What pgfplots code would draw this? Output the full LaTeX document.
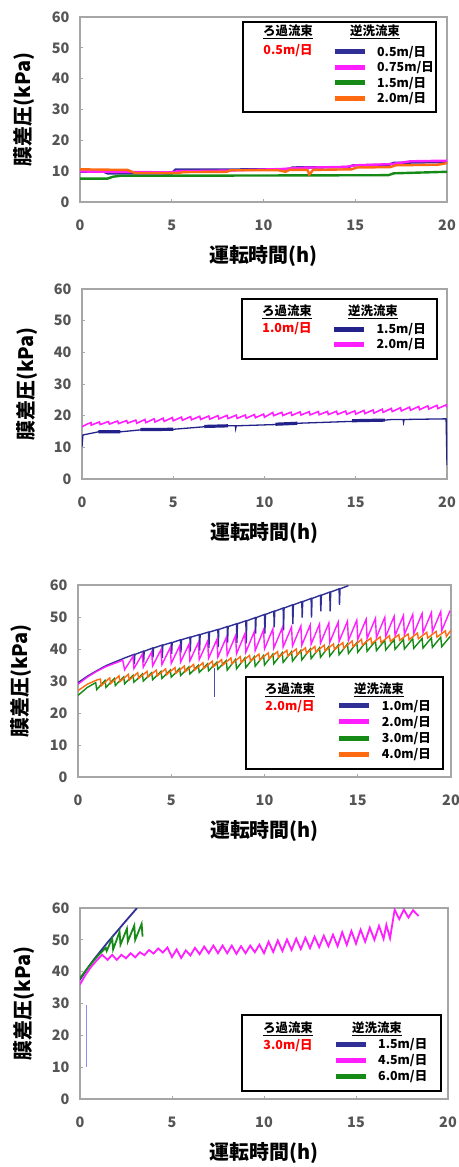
\documentclass[border=0pt]{standalone}
\usepackage{fontspec}
\setmainfont{Noto Sans CJK JP}
\usepackage{pgfplots}
\pgfplotsset{compat=1.18}

\definecolor{cBlue}{HTML}{2F2F96}
\definecolor{cNavy}{HTML}{22228A}
\definecolor{cMag}{HTML}{FF1EFF}
\definecolor{cGreen}{HTML}{168A16}
\definecolor{cOrange}{HTML}{FF6A10}
\definecolor{framegray}{HTML}{A6A6A6}
\definecolor{tickgray}{HTML}{555555}

\newcommand\ticklabelfont{\bfseries\fontsize{14.5}{14.5}\selectfont}
\newcommand\axislabelfont{\bfseries\fontsize{20}{20}\selectfont}
\newcommand\legfont{\bfseries\fontsize{12.5}{12.5}\selectfont}

\pgfplotsset{
  panel/.style={
    scale only axis,
    anchor=south west,
    xmin=0, xmax=20, ymin=0, ymax=60,
    xtick={0,5,10,15,20},
    ytick={0,10,20,30,40,50,60},
    tick align=inside,
    xtick pos=left, ytick pos=left,
    major tick length=3bp,
    axis line style={draw=framegray, line width=1.6bp},
    tick style={draw=framegray, line width=1bp},
    tick label style={font=\ticklabelfont, text=tickgray},
    /pgf/number format/assume math mode=true,
    xticklabel style={yshift=-14bp},
    yticklabel style={xshift=-7bp},
    xlabel={運転時間(h)},
    ylabel={膜差圧(kPa)},
    every axis x label/.style={at={(axis description cs:0.5,0)}, anchor=center, yshift=-54bp, font=\axislabelfont},
    every axis y label/.style={at={(axis description cs:-0.152,0.5)}, anchor=center, rotate=90, font=\axislabelfont},
    legend cell align=left,
    legend image code/.code={\draw[##1, line width=5bp, line cap=butt] (0bp,0bp) -- (30bp,0bp);},
    legend style={anchor=north west, draw=none, fill=none, inner sep=0pt, outer sep=0pt,
      column sep=10bp, row sep=0pt, font=\legfont,
      nodes={inner sep=0pt, minimum height=15.5bp, anchor=west}},
  },
}

% frame and column headers of each legend
% #1..#4 box corners, #5 left column centre, #6 right column centre,
% #7 header row, #8 filtration flux row, #9 filtration flux text
\newcommand\legendbox[9]{%
  \draw[black, line width=1.4bp] (#1bp,-#2bp) rectangle (#3bp,-#4bp);
  \node[font=\legfont] at (#5bp,-#7bp) {\underline{ろ過流束}};
  \node[font=\legfont] at (#6bp,-#7bp) {\underline{逆洗流束}};
  \node[font=\legfont, text=red] at (#5bp,-#8bp) {#9};
}

\begin{document}
\begin{tikzpicture}
\path[use as bounding box] (0bp,0bp) rectangle (459bp,-1167bp);

% ---------- filtration flux 0.5 m/day ----------
\begin{axis}[panel, width=367bp, height=185bp, at={(80bp,-202bp)},
  legend style={at={(rel axis cs:0.687,0.853)}}]
\addplot[cBlue, line width=2.4bp] coordinates {
 (0,9.8)(1.3,9.8)(1.5,9.3)(5,9.3)(5.2,10.5)(11.3,10.6)(11.6,11.2)(14.6,11.3)
 (14.9,11.9)(16.8,12.0)(17.1,12.7)(20,13.0)};
\addlegendentry{0.5m/日}
\addplot[cMag, line width=2.4bp] coordinates {
 (0,9.9)(5,9.6)(5.3,10.0)(7,10.1)(8,10.2)(11,10.7)(12,11.1)(14.5,11.4)
 (15,11.9)(17,12.3)(18,13.2)(20,13.4)};
\addlegendentry{0.75m/日}
\addplot[cGreen, line width=2.4bp] coordinates {
 (0,7.6)(1.5,7.6)(1.8,8.2)(2.2,8.5)(10,8.6)(16.8,8.7)(17.1,9.3)(20,9.8)};
\addlegendentry{1.5m/日}
\addplot[cOrange, line width=2.4bp] coordinates {
 (0,10.6)(2.6,10.4)(3,9.4)(5.4,9.4)(5.6,9.7)(8,9.8)(8.2,10.3)(10.8,10.3)
 (11.2,9.8)(11.4,10.4)(12.4,10.4)(12.5,8.9)(12.7,10.4)(14.8,10.6)(15.1,11.2)
 (16.9,11.3)(17.2,11.9)(19.5,12.1)(20,12.6)};
\addlegendentry{2.0m/日}
\end{axis}
\legendbox{243}{22}{436}{112}{288}{375}{32}{51}{0.5m/日}

% ---------- filtration flux 1.0 m/day ----------
\begin{axis}[panel, width=365bp, height=190bp, at={(82bp,-479bp)},
  legend style={at={(rel axis cs:0.684,0.830)}}]
\addplot[cNavy, line width=1.3bp] coordinates {
 (0,10.2)(0.05,13.9)(0.3,14.2)(0.9,14.9)(2.1,14.9)(3.2,15.5)(5,15.7)
 (6.7,16.5)(8,16.8)(8.4,16.8)(8.42,15.9)(8.45,16.8)(10.6,17.2)(11.8,17.6)
 (14.8,18.2)(16.6,18.6)(17,18.8)(17.6,18.8)(17.62,17.9)(17.65,18.8)
 (19.95,19.0)(20,4.4)};
\addlegendentry{1.5m/日}
\addplot[cNavy, line width=3.2bp, forget plot, unbounded coords=jump] coordinates {
 (0.9,14.9)(2.1,14.9) (2.1,nan)
 (3.2,15.6)(5,15.7) (5,nan)
 (6.7,16.6)(8,16.8) (8,nan)
 (10.6,17.3)(11.8,17.6) (11.8,nan)
 (14.8,18.4)(16.6,18.6)};
\addplot[cMag, line width=1.6bp] coordinates {
 (0,16.5)(0.3,17.4)(0.5,17.8)
 (0.5,17.0)(0.95,18.0)(1,17.2)(1.45,18.15)(1.5,17.35)(1.95,18.3)
 (2,17.5)(2.45,18.45)(2.5,17.65)(2.95,18.6)(3,17.6)(3.45,18.8)
 (3.5,17.8)(3.95,19.0)(4,18.0)(4.45,19.2)(4.5,18.2)(4.95,19.4)
 (5,18.4)(5.45,19.55)(5.5,18.55)(5.95,19.7)(6,18.7)(6.45,19.8)
 (6.5,18.8)(6.95,19.9)(7,18.9)(7.45,20.0)(7.5,19.0)(7.95,20.1)
 (8,19.1)(8.45,20.15)(8.5,19.15)(8.95,20.2)(9,19.2)(9.45,20.35)
 (9.5,19.35)(9.95,20.5)(10,19.5)(10.45,21.0)(10.5,20.0)(10.95,21.05)
 (11,20.05)(11.45,21.1)(11.5,20.1)(11.95,21.2)(12,20.2)(12.45,21.25)
 (12.5,20.25)(12.95,21.3)(13,20.3)(13.45,21.35)(13.5,20.35)(13.95,21.4)
 (14,20.4)(14.45,21.45)(14.5,20.45)(14.95,21.5)(15,20.5)(15.45,21.65)
 (15.5,20.65)(15.95,21.8)(16,20.8)(16.45,22.05)(16.5,21.05)(16.95,22.3)
 (17,21.3)(17.45,22.5)(17.5,21.5)(17.95,22.7)(18,21.7)(18.45,22.9)
 (18.5,21.9)(18.95,23.1)(19,22.1)(19.45,23.25)(19.5,22.25)(19.95,23.4)
 (20,22.6)};
\addlegendentry{2.0m/日}
\end{axis}
\legendbox{242}{299}{437}{359}{287}{373}{312}{329}{1.0m/日}

% ---------- filtration flux 2.0 m/day ----------
\begin{axis}[panel, width=373bp, height=192bp, at={(78bp,-777bp)},
  legend style={at={(rel axis cs:0.694,0.4135)}, nodes={minimum height=16.2bp}}]
\addplot[cBlue, line width=1.4bp] coordinates {
 (0,29.5)(0.5,31.5)(1,33.2)(1.5,34.8)(2,36.0)(2.5,37.2)
 (3,38.3)(3.02,35.3)(3.05,38.3)(3.5,39.3)(3.52,35.8)(3.55,39.3)
 (4,40.3)(4.02,37.3)(4.05,40.3)(4.5,41.2)(4.52,37.2)(4.55,41.2)
 (5,42.0)(5.02,38.5)(5.05,42.0)(5.5,42.9)(5.52,38.9)(5.55,42.9)
 (6,43.7)(6.02,39.2)(6.05,43.7)(6.5,44.5)(6.52,39.5)(6.55,44.5)
 (7,45.3)(7.02,40.3)(7.05,45.3)(7.5,46.1)(7.52,40.6)(7.55,46.1)
 (8,47.0)(8.02,42.0)(8.05,47.0)(8.5,47.9)(8.52,41.9)(8.55,47.9)
 (9,48.8)(9.02,41.8)(9.05,48.8)(9.5,49.8)(9.52,44.8)(9.55,49.8)
 (10,50.8)(10.02,44.8)(10.05,50.8)(10.5,51.8)(10.52,46.8)(10.55,51.8)
 (11,52.8)(11.02,45.8)(11.05,52.8)(11.5,53.8)(11.52,47.8)(11.55,53.8)
 (12,54.8)(12.02,49.8)(12.05,54.8)(12.5,55.8)(12.52,49.8)(12.55,55.8)
 (13,56.8)(13.02,51.8)(13.05,56.8)(13.5,57.8)(13.52,51.8)(13.55,57.8)
 (14,58.8)(14.02,53.8)(14.05,58.8)(14.5,59.8)};
\addlegendentry{1.0m/日}
\addplot[cMag, line width=1.4bp] coordinates {
 (0,29.0)(0.5,31.2)(1,33.0)(1.5,34.5)(2,35.6)(2.4,36.5)
 (2.5,33.5)(2.95,37.7)(3.0,33.9)(3.45,38.4)(3.5,34.3)(3.95,39.1)
 (4.0,34.7)(4.45,39.8)(4.5,35.1)(4.95,40.5)(5.0,35.5)(5.45,41.0)
 (5.5,35.9)(5.95,41.5)(6.0,36.3)(6.45,42.0)(6.5,36.7)(6.95,42.5)
 (7.0,37.1)(7.45,43.0)(7.5,37.5)(7.95,43.6)(8.0,38.0)(8.45,44.2)
 (8.5,38.5)(8.95,44.8)(9.0,39.0)(9.45,45.4)(9.5,39.5)(9.95,46.0)
 (10.0,40.0)(10.45,46.3)(10.5,40.3)(10.95,46.6)(11.0,40.6)(11.45,46.9)
 (11.5,40.9)(11.95,47.2)(12.0,41.2)(12.45,47.5)(12.5,41.5)(12.95,47.8)
 (13.0,41.8)(13.45,48.1)(13.5,42.1)(13.95,48.4)(14.0,42.4)(14.45,48.7)
 (14.5,42.7)(14.95,49.0)(15.0,43.0)(15.45,49.3)(15.5,43.3)(15.95,49.6)
 (16.0,43.6)(16.45,49.9)(16.5,43.9)(16.95,50.2)(17.0,44.2)(17.45,50.5)
 (17.5,44.5)(17.95,50.8)(18.0,44.8)(18.45,51.1)(18.5,45.1)(18.95,51.4)
 (19.0,45.4)(19.45,51.7)(19.5,45.7)(19.95,52.0)};
\addlegendentry{2.0m/日}
\addplot[cGreen, line width=1.4bp] coordinates {
 (0,25.5)(0.5,28.0)(0.95,29.5)
 (1,27.3)(1.45,30.2)(1.5,28.0)(1.95,30.8)(2,28.6)(2.45,31.3)
 (2.5,29.1)(2.95,31.8)(3,29.6)(3.45,32.2)(3.5,30.0)(3.95,32.6)
 (4,30.4)(4.45,33.0)(4.5,30.8)(4.95,33.4)(5,31.2)(5.45,33.9)
 (5.5,31.7)(5.95,34.4)(6,32.2)(6.45,34.9)(6.5,32.7)(6.95,35.4)
 (7,33.2)(7.45,35.9)(7.5,33.7)(7.95,36.4)(8,33.4)(8.45,36.8)
 (8.5,33.8)(8.95,37.2)(9,34.2)(9.45,37.6)(9.5,34.6)(9.95,38.0)
 (10,35.0)(10.45,38.4)(10.5,35.4)(10.95,38.8)(11,35.8)(11.45,39.2)
 (11.5,36.2)(11.95,39.6)(12,36.6)(12.45,40.0)(12.5,37.0)(12.95,40.4)
 (13,37.4)(13.45,40.8)(13.5,37.8)(13.95,41.2)(14,38.2)(14.45,41.6)
 (14.5,38.6)(14.95,42.0)(15,39.0)(15.45,42.3)(15.5,39.3)(15.95,42.5)
 (16,39.5)(16.45,42.7)(16.5,39.7)(16.95,42.9)(17,39.9)(17.45,43.0)
 (17.5,40.0)(17.95,43.2)(18,40.2)(18.45,43.3)(18.5,40.3)(18.95,43.5)
 (19,40.5)(19.45,43.7)(19.5,40.7)(19.95,43.9)};
\addlegendentry{3.0m/日}
\addplot[cOrange, line width=1.4bp] coordinates {
 (0,27.0)(0.5,29.0)(1,30.3)(1.2,30.6)
 (1.25,28.5)(1.7,31.0)(1.75,29.2)(2.2,31.6)(2.25,29.8)(2.7,32.1)
 (2.75,30.3)(3.2,32.6)(3.25,30.8)(3.7,33.0)(3.75,31.2)(4.2,33.4)
 (4.25,31.6)(4.7,33.8)(4.75,32.0)(5.2,34.2)(5.25,32.4)(5.7,34.7)
 (5.75,32.9)(6.2,35.2)(6.25,33.4)(6.7,35.7)(6.75,33.9)(7.2,36.2)
 (7.25,34.4)(7.7,36.7)(7.75,34.9)(8.2,37.2)(8.25,35.4)(8.7,37.6)
 (8.75,35.8)(9.2,38.0)(9.25,36.2)(9.7,38.4)(9.75,36.6)(10.2,38.8)
 (10.25,37.0)(10.7,39.2)(10.75,37.4)(11.2,39.6)(11.25,37.8)(11.7,40.0)
 (11.75,38.2)(12.2,40.4)(12.25,38.6)(12.7,40.8)(12.75,39.0)(13.2,41.2)
 (13.25,39.4)(13.7,41.6)(13.75,39.8)(14.2,42.0)(14.25,40.2)(14.7,42.5)
 (14.75,40.7)(15.2,43.0)(15.25,41.2)(15.7,43.45)(15.75,41.65)(16.2,43.8)
 (16.25,42.0)(16.7,44.15)(16.75,42.35)(17.2,44.5)(17.25,42.7)(17.7,44.7)
 (17.75,42.9)(18.2,45.0)(18.25,43.2)(18.7,45.2)(18.75,43.4)(19.2,45.5)
 (19.25,43.7)(19.7,45.7)(19.75,43.9)(20,45.9)};
\addlegendentry{4.0m/日}
\addplot[gray!60!blue, line width=0.7bp, forget plot] coordinates {(7.3,34.0)(7.3,25.0)};
\end{axis}
\legendbox{246}{677}{443}{769}{290}{379}{690}{707}{2.0m/日}

% ---------- filtration flux 3.0 m/day ----------
\begin{axis}[panel, width=368bp, height=191bp, at={(80bp,-1099bp)},
  legend style={at={(rel axis cs:0.688,0.3306)}, nodes={minimum height=16.3bp}}]
\addplot[cBlue, line width=1.8bp] coordinates {
 (0,37.5)(0.25,39.7)(0.5,41.8)(0.75,43.8)(1,45.6)(1.5,49.2)(2,52.6)
 (2.5,56.0)(3.1,60.0)};
\addlegendentry{1.5m/日}
\addplot[cMag, line width=1.8bp] coordinates {
 (0,36.0)(0.3,39.0)(0.6,41.5)(0.9,43.5)(1.2,45.3)
 (1.5,43.7)(1.75,45.3)(2.0,43.7)(2.25,45.3)(2.5,44.2)(2.75,45.8)
 (3.0,44.5)(3.25,46.1)(3.5,45.2)(3.75,46.8)(4.0,45.7)(4.25,47.3)
 (4.5,46.0)(4.75,47.6)(5.0,44.6)(5.25,47.0)(5.5,44.3)(5.75,46.7)
 (6.0,45.1)(6.25,47.5)(6.5,45.5)(6.75,47.9)(7.0,45.8)(7.25,48.2)
 (7.5,45.8)(7.75,48.2)(8.0,45.8)(8.25,48.2)(8.5,45.6)(8.75,48.0)
 (9.0,45.8)(9.25,48.2)(9.5,46.1)(9.75,48.5)(10.0,45.8)(10.25,49.4)
 (10.5,46.2)(10.75,49.8)(11.0,46.5)(11.25,50.1)(11.5,46.8)(11.75,50.4)
 (12.0,47.1)(12.25,50.7)(12.5,47.4)(12.75,51.0)(13.0,47.7)(13.25,51.3)
 (13.5,48.0)(13.75,51.6)(14.0,48.0)(14.25,52.4)(14.5,48.4)(14.75,52.8)
 (15.0,48.8)(15.25,53.2)(15.5,49.4)(15.75,53.8)(16.0,50.0)(16.25,54.4)
 (16.5,50.3)(16.65,54.7)(16.85,50.5)(17.1,59.5)(17.35,56.5)(17.6,59.5)
 (17.85,57.0)(18.1,59.3)(18.4,57.5)};
\addlegendentry{4.5m/日}
\addplot[cGreen, line width=1.8bp] coordinates {
 (0,38.0)(0.5,41.8)(1,45.2)(1.4,47.5)(1.45,46.5)(1.75,50.5)(1.8,47.0)
 (2.15,52.5)(2.2,48.5)(2.55,53.5)(2.6,49.5)(2.95,54.5)(3.0,50.0)
 (3.35,55.0)(3.4,51.0)};
\addlegendentry{6.0m/日}
\addplot[blue!45, line width=0.8bp, forget plot] coordinates {(0.33,10.2)(0.33,29.5)};
\end{axis}
\legendbox{242}{1015}{441}{1091}{288}{377}{1029}{1046}{3.0m/日}
\end{tikzpicture}
\end{document}
